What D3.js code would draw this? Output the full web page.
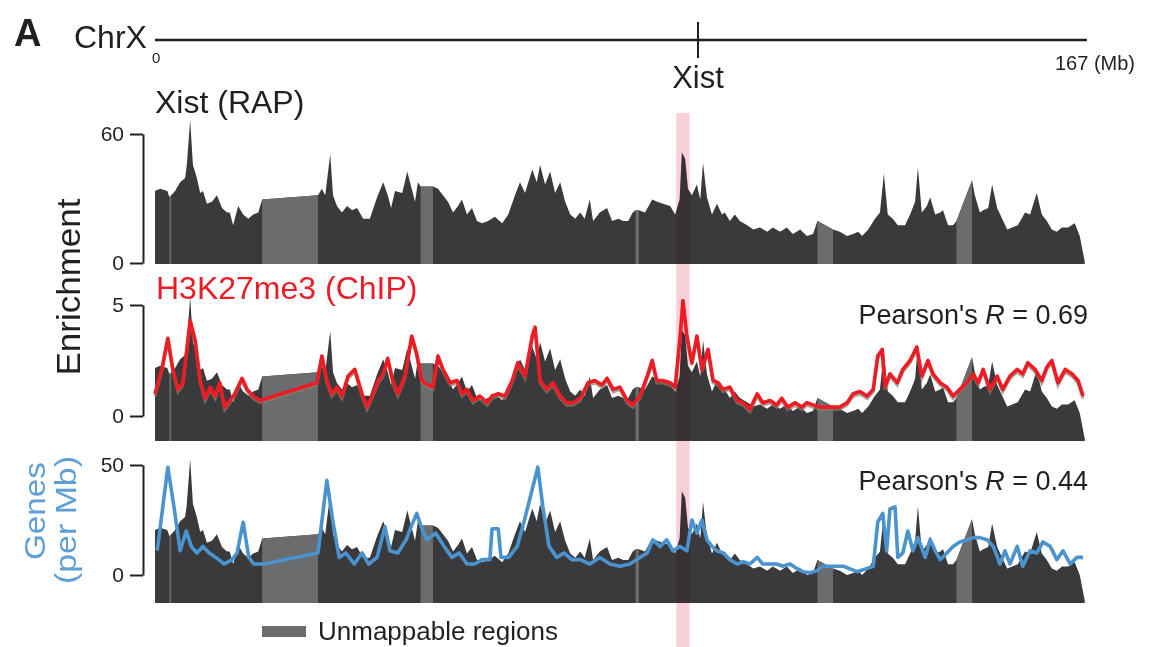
<!DOCTYPE html>
<html>
<head>
<meta charset="utf-8">
<script src="https://cdn.jsdelivr.net/npm/d3@7"></script>
<style>
body { margin: 0; background: #fff; }
text { font-family: "Liberation Sans", Arial, sans-serif; fill: #231f20; }
</style>
</head>
<body>
<svg id="chart" width="1151" height="647"></svg>
<script>
// positions on ChrX are in Mb
var chrLength = 167;
var xistPos = 97.3;
var xistBand = [93.4, 95.8];
var unmappable = [[2.6, 2.9], [19.2, 29.2], [47.6, 49.8], [86.1, 86.7], [118.7, 121.5], [143.6, 146.4]];

// Xist RAP enrichment
var rapPos = [0, 0.9, 2.2, 2.6, 2.9, 3.6, 4.5, 5.4, 5.7, 6.3, 6.8, 7.5, 8.1, 8.6, 9.3, 10.2, 11.1, 12.0, 12.9, 13.4,
  14.0, 14.9, 15.8, 16.7, 17.6, 18.5, 19.2, 29.2, 29.9, 30.5, 31.4, 31.9, 32.6, 33.5, 34.4, 35.3, 36.2, 37.3, 38.5, 39.8,
  40.9, 41.7, 42.3, 43.0, 44.3, 45.2, 46.0, 46.6, 47.1, 47.6, 49.8, 50.7, 51.6, 52.5, 53.4, 54.3, 55.0, 55.9, 56.8, 57.7,
  58.6, 59.7, 60.9, 62.2, 63.3, 64.5, 65.4, 66.3, 67.6, 68.4, 69.0, 69.9, 70.8, 71.7, 72.6, 73.5, 74.4, 75.3, 76.2, 77.0,
  77.9, 78.5, 79.7, 81.0, 81.9, 83.0, 83.9, 84.8, 85.6, 86.1, 86.7, 87.8, 89.1, 90.0, 91.0, 92.3, 93.2, 94.0, 94.4, 95.0,
  95.5, 96.2, 97.1, 97.7, 98.2, 98.9, 99.8, 100.7, 101.6, 102.1, 103.0, 103.9, 104.8, 106.1, 107.2, 108.4, 109.7, 110.7, 112.0, 113.2,
  114.3, 115.6, 116.8, 117.9, 118.7, 121.5, 122.7, 124.0, 125.1, 126.0, 126.7, 127.8, 129.0, 129.9, 130.6, 131.3, 132.2, 133.1, 134.4, 135.3,
  136.2, 136.7, 137.4, 138.3, 138.9, 139.8, 140.7, 141.2, 142.1, 143.0, 143.6, 146.4, 146.9, 147.8, 148.4, 149.3, 150.0, 150.9, 151.8, 152.7,
  153.6, 154.6, 155.9, 156.8, 158.0, 158.9, 159.8, 160.7, 161.6, 162.5, 163.6, 164.8, 165.7, 166.6];
var rapVal = [34, 35, 34, 31, 32, 34, 38, 40, 46, 67, 46, 40, 33, 34, 28, 29, 32, 26, 24, 24,
  18, 27, 23, 21, 23, 24, 30, 32, 35, 32, 51, 32, 27, 24, 27, 25, 26, 21, 21, 31,
  38, 32, 26, 34, 33, 43, 35, 29, 38, 36, 36, 35, 32, 29, 24, 27, 30, 23, 26, 20,
  19, 20, 22, 19, 23, 32, 38, 33, 44, 38, 46, 37, 43, 33, 38, 29, 23, 21, 24, 21,
  30, 20, 24, 26, 20, 21, 20, 20, 24, 25, 25, 24, 30, 29, 28, 27, 23, 30, 52, 49,
  35, 32, 37, 30, 47, 31, 23, 28, 23, 24, 20, 23, 20, 18, 16, 17, 15, 17, 15, 17,
  14, 16, 13, 14, 20, 16, 15, 13, 14, 15, 13, 16, 21, 24, 42, 23, 21, 18, 18, 23,
  29, 45, 24, 27, 31, 23, 24, 25, 18, 18, 20, 39, 32, 24, 25, 26, 37, 26, 21, 16,
  17, 18, 24, 23, 33, 23, 20, 16, 15, 17, 17, 19, 13, 1];

// H3K27me3 ChIP enrichment
var k27Pos = [0, 1.3, 2.3, 3.2, 4.1, 5.0, 6.3, 7.2, 8.1, 9.0, 9.9, 10.8, 11.6, 12.5, 13.4, 14.3, 15.6, 16.5, 17.6, 18.8,
  29.0, 29.9, 30.8, 31.7, 32.6, 33.5, 34.6, 35.8, 37.1, 38.0, 38.9, 40.0, 40.9, 41.7, 42.6, 43.5, 44.8, 46.0, 46.9, 47.8,
  48.9, 49.8, 50.7, 51.6, 52.9, 54.1, 55.0, 55.9, 57.0, 58.2, 59.5, 60.4, 61.5, 62.7, 64.0, 65.0, 66.3, 67.6, 68.1, 69.0,
  70.2, 71.3, 72.6, 73.8, 74.9, 76.2, 77.6, 78.8, 80.1, 81.0, 82.1, 83.3, 84.6, 85.6, 86.9, 88.2, 89.1, 89.9, 91.0, 92.3,
  93.2, 94.1, 94.6, 95.3, 96.2, 97.1, 98.0, 99.1, 100.0, 100.9, 101.8, 103.0, 104.3, 105.4, 106.6, 107.9, 108.9, 110.2, 111.4, 112.3,
  113.4, 114.7, 115.9, 116.8, 117.9, 119.2, 121.5, 122.7, 124.0, 125.1, 126.3, 127.6, 128.7, 129.5, 130.3, 130.8, 131.7, 133.0, 134.0, 135.3,
  136.5, 137.4, 138.5, 139.4, 140.7, 141.9, 143.0, 144.2, 145.5, 146.6, 147.5, 148.4, 149.6, 150.9, 151.9, 153.2, 154.5, 155.5, 156.4, 157.7,
  158.9, 159.8, 160.7, 161.8, 163.1, 164.3, 165.4, 166.3];
var k27Val = [1.0, 2.2, 3.5, 2.1, 1.2, 1.5, 4.3, 3.4, 1.6, 0.8, 1.3, 0.9, 1.5, 0.4, 0.7, 1.0, 1.7, 1.2, 0.9, 0.7,
  1.5, 2.7, 1.6, 1.0, 1.3, 0.9, 1.8, 2.1, 1.0, 0.4, 0.9, 1.6, 1.9, 2.6, 1.6, 1.0, 1.8, 3.6, 2.8, 1.6,
  1.4, 1.3, 2.7, 2.1, 1.5, 1.6, 1.0, 1.2, 0.7, 0.9, 0.6, 0.9, 1.0, 0.9, 1.6, 2.4, 1.8, 3.6, 4.0, 1.6,
  1.2, 1.5, 0.9, 0.6, 0.6, 0.8, 1.5, 1.6, 1.4, 1.7, 1.2, 1.3, 0.7, 0.5, 0.9, 1.8, 2.5, 1.6, 1.6, 1.5,
  1.3, 3.6, 5.2, 3.6, 2.4, 3.6, 2.1, 3.0, 1.6, 1.5, 1.2, 1.3, 0.7, 0.6, 0.3, 1.0, 0.6, 0.7, 0.5, 0.8,
  0.4, 0.6, 0.4, 0.6, 0.5, 0.4, 0.4, 0.4, 0.6, 1.0, 1.1, 0.9, 1.2, 2.7, 3.0, 1.3, 1.9, 1.5, 2.1, 2.5,
  3.1, 1.8, 2.5, 1.9, 1.5, 1.3, 0.9, 1.2, 1.5, 1.9, 1.5, 2.1, 1.2, 1.8, 1.2, 1.8, 2.1, 1.9, 2.4, 2.1,
  1.6, 2.2, 2.5, 1.5, 2.1, 1.9, 1.6, 0.9];

// gene density, genes per Mb
var genePos = [0.4, 2.3, 3.4, 4.5, 5.6, 6.5, 7.5, 8.6, 9.7, 10.9, 12.4, 13.8, 14.7, 15.8, 16.8, 17.7, 19.5, 29.2, 30.8, 31.9,
  33.0, 34.2, 35.7, 37.1, 38.3, 39.8, 41.2, 42.1, 43.5, 45.0, 45.9, 46.9, 47.7, 48.7, 50.3, 51.8, 53.2, 54.5, 55.9, 57.3,
  58.6, 60.0, 60.4, 61.5, 62.0, 63.4, 64.9, 66.1, 67.6, 68.6, 69.5, 70.6, 72.0, 73.3, 74.7, 76.2, 77.9, 79.7, 81.5, 83.3,
  85.1, 86.9, 88.2, 89.2, 90.5, 91.7, 92.8, 94.1, 95.3, 96.2, 97.1, 98.0, 98.9, 99.8, 100.7, 101.8, 103.0, 104.3, 105.4, 106.6,
  107.9, 108.9, 110.2, 111.4, 112.5, 113.8, 115.0, 116.1, 117.4, 118.6, 119.7, 123.3, 125.8, 127.6, 128.7, 129.5, 130.4, 131.1, 131.7, 132.6,
  133.1, 134.0, 134.9, 135.8, 136.7, 138.0, 138.9, 139.8, 140.7, 141.9, 143.0, 144.2, 145.5, 146.6, 147.8, 149.1, 150.2, 151.4, 152.3, 153.2,
  154.5, 155.5, 156.8, 158.0, 159.1, 160.4, 161.6, 162.7, 164.0, 165.2, 166.3];
var geneVal = [11, 49, 31, 11, 20, 13, 10, 13, 10, 8, 5, 7, 10, 24, 8, 5, 5, 10, 43, 24,
  8, 10, 5, 10, 5, 8, 22, 11, 10, 16, 22, 28, 22, 16, 19, 13, 8, 10, 5, 5,
  7, 7, 21, 21, 8, 8, 13, 24, 39, 49, 31, 13, 8, 10, 7, 7, 5, 8, 5, 4,
  5, 8, 10, 16, 13, 16, 11, 13, 11, 25, 19, 25, 16, 13, 11, 10, 7, 5, 6, 5,
  8, 5, 5, 5, 4, 5, 3, 1.5, 1, 2, 4, 4, 1.5, 3, 4, 24, 28, 11, 30, 31,
  8, 10, 20, 11, 17, 8, 16, 11, 7, 10, 13, 15, 16, 17, 17, 16, 13, 5, 11, 5,
  13, 4, 11, 10, 15, 13, 7, 11, 5, 8, 8];

var pearsonR = ["0.69", "0.44"];

var svg = d3.select("#chart");
var x = d3.scaleLinear().domain([0, chrLength]).range([155, 1087]);

function pairs(pos, val) {
  return pos.map(function(p, i) { return { p: p, v: val[i] }; });
}
var rap = pairs(rapPos, rapVal);
var k27 = pairs(k27Pos, k27Val);
var genes = pairs(genePos, geneVal);

var dark = "#3a3a3c", light = "#6b6c6e", red = "#ed1c24", blue = "#4a93cf";

// chromosome bar
svg.append("text").attr("x", 14).attr("y", 46).attr("font-size", 38).attr("font-weight", "bold").text("A");
svg.append("text").attr("x", 74).attr("y", 48).attr("font-size", 32).text("ChrX");
svg.append("line").attr("x1", x(0)).attr("x2", x(chrLength)).attr("y1", 40).attr("y2", 40)
  .attr("stroke", "#231f20").attr("stroke-width", 2.5);
svg.append("line").attr("x1", x(xistPos)).attr("x2", x(xistPos)).attr("y1", 22).attr("y2", 58)
  .attr("stroke", "#231f20").attr("stroke-width", 2);
svg.append("text").attr("x", x(xistPos)).attr("y", 88).attr("font-size", 31).attr("text-anchor", "middle").text("Xist");
svg.append("text").attr("x", x(0) - 3).attr("y", 63).attr("font-size", 15).text("0");
svg.append("text").attr("x", 1135).attr("y", 70).attr("font-size", 20).attr("text-anchor", "end").text(chrLength + " (Mb)");

// clip for unmappable regions
var clip = svg.append("defs").append("clipPath").attr("id", "unmap");
clip.selectAll("rect").data(unmappable).enter().append("rect")
  .attr("x", function(d) { return x(d[0]); })
  .attr("width", function(d) { return x(d[1]) - x(d[0]); })
  .attr("y", 0).attr("height", 647);

var panels = [
  { base: 264, y: d3.scaleLinear().domain([0, 60]).range([263, 134]), ticks: [0, 60] },
  { base: 441, y: d3.scaleLinear().domain([0, 5]).range([416, 305]), ticks: [0, 5], line: k27, color: red },
  { base: 603, y: d3.scaleLinear().domain([0, 50]).range([575, 465]), ticks: [0, 50], line: genes, color: blue }
];

panels.forEach(function(pn) {
  // RAP signal drawn at the same pixel scale in every panel
  var ry = d3.scaleLinear().domain([0, 60]).range([pn.base, pn.base - 129]);
  var area = d3.area().x(function(d) { return x(d.p); }).y0(pn.base).y1(function(d) { return ry(d.v); });
  svg.append("path").datum(rap).attr("d", area).attr("fill", dark);
  svg.append("path").datum(rap).attr("d", area).attr("fill", light).attr("clip-path", "url(#unmap)");

  var ax = svg.append("g").attr("transform", "translate(143,0)")
    .call(d3.axisLeft(pn.y).tickValues(pn.ticks).tickFormat(d3.format("d"))
      .tickSize(13).tickSizeOuter(0).tickPadding(6));
  ax.select(".domain").attr("stroke", "#231f20").attr("stroke-width", 2);
  ax.selectAll(".tick line").attr("stroke", "#231f20").attr("stroke-width", 2);
  ax.selectAll(".tick text").attr("font-size", 21).attr("font-family", "Liberation Sans, Arial, sans-serif").attr("fill", "#231f20");
});

// Xist locus highlight
svg.append("rect").attr("x", x(xistBand[0])).attr("width", x(xistBand[1]) - x(xistBand[0]))
  .attr("y", 113).attr("height", 534).attr("fill", "#f9d0da").style("mix-blend-mode", "multiply");

panels.forEach(function(pn) {
  if (!pn.line) return;
  var line = d3.line().x(function(d) { return x(d.p); }).y(function(d) { return pn.y(d.v); });
  if (pn.color == red) {
    svg.append("path").datum(pn.line).attr("d", line).attr("fill", "none")
      .attr("stroke", "#8a7a68").attr("stroke-width", 3).attr("opacity", 0.7)
      .attr("transform", "translate(0,2.5)");
  }
  svg.append("path").datum(pn.line).attr("d", line).attr("fill", "none")
    .attr("stroke", pn.color).attr("stroke-width", 3.6).attr("stroke-linejoin", "round");
});

// titles
svg.append("text").attr("x", 155).attr("y", 113).attr("font-size", 32).text("Xist (RAP)");
svg.append("text").attr("x", 156).attr("y", 299).attr("font-size", 32).style("fill", red).text("H3K27me3 (ChIP)");
svg.append("text").attr("transform", "translate(80,287) rotate(-90)").attr("font-size", 34)
  .attr("text-anchor", "middle").attr("textLength", 177).attr("lengthAdjust", "spacingAndGlyphs").text("Enrichment");
svg.append("text").attr("transform", "translate(45,511) rotate(-90)").attr("font-size", 29)
  .attr("text-anchor", "middle").attr("textLength", 98).attr("lengthAdjust", "spacingAndGlyphs")
  .style("fill", "#5e9fd6").text("Genes");
svg.append("text").attr("transform", "translate(76,520) rotate(-90)").attr("font-size", 29)
  .attr("text-anchor", "middle").attr("textLength", 128).attr("lengthAdjust", "spacingAndGlyphs")
  .style("fill", "#5e9fd6").text("(per Mb)");

[324, 490].forEach(function(yy, i) {
  var t = svg.append("text").attr("x", 1088).attr("y", yy).attr("font-size", 27).attr("text-anchor", "end");
  t.append("tspan").text("Pearson's ");
  t.append("tspan").attr("font-style", "italic").text("R");
  t.append("tspan").text(" = " + pearsonR[i]);
});

// legend
svg.append("rect").attr("x", 262).attr("y", 626).attr("width", 44).attr("height", 11).attr("fill", light);
svg.append("text").attr("x", 318).attr("y", 640).attr("font-size", 26).text("Unmappable regions");
</script>
</body>
</html>
